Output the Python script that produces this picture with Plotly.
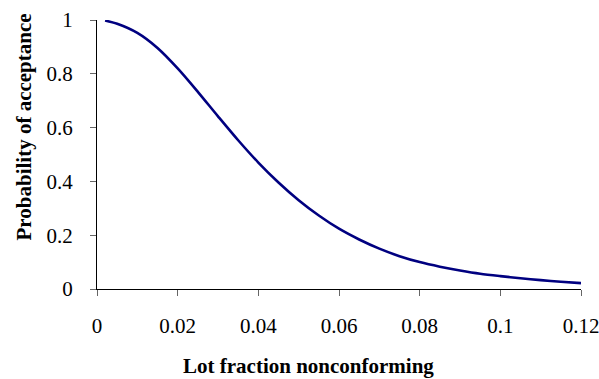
import plotly.graph_objects as go

# Operating characteristic curve: lot fraction nonconforming vs. probability of acceptance
lot_fraction = [0.002, 0.005, 0.01, 0.015, 0.02, 0.025, 0.03, 0.035, 0.04, 0.045,
                0.05, 0.055, 0.06, 0.065, 0.07, 0.075, 0.08, 0.085, 0.09, 0.095,
                0.10, 0.105, 0.11, 0.115, 0.12]
prob_accept = [0.998, 0.986, 0.952, 0.896, 0.820, 0.733, 0.642, 0.553, 0.470, 0.396,
               0.330, 0.273, 0.224, 0.184, 0.150, 0.122, 0.100, 0.083, 0.069, 0.057,
               0.048, 0.040, 0.033, 0.027, 0.022]

x_ticks = [0, 0.02, 0.04, 0.06, 0.08, 0.1, 0.12]
x_tick_labels = ["0", "0.02", "0.04", "0.06", "0.08", "0.1", "0.12"]
y_ticks = [0, 0.2, 0.4, 0.6, 0.8, 1]
y_tick_labels = ["0", "0.2", "0.4", "0.6", "0.8", "1"]

x_title = "Lot fraction nonconforming"
y_title = "Probability of acceptance"

SERIF = "Liberation Serif, Times New Roman, serif"

fig = go.Figure()
fig.add_trace(go.Scatter(
    x=lot_fraction, y=prob_accept, mode="lines",
    line=dict(color="#000080", width=2.6, shape="spline", smoothing=0.8),
    hoverinfo="skip", showlegend=False,
))

axis_common = dict(
    showgrid=False, zeroline=False, showline=True, linecolor="black", linewidth=1,
    ticks="outside", ticklen=6, tickcolor="#666", tickwidth=1,
    tickfont=dict(family=SERIF, size=21, color="black"),
    ticklabeloverflow="allow", automargin=False,
)

fig.update_xaxes(range=[0, 0.12 + 1e-9], tickvals=x_ticks, ticktext=x_tick_labels,
                 ticklabelstandoff=12, **axis_common)
fig.update_yaxes(range=[0, 1 + 1e-9], tickvals=y_ticks, ticktext=y_tick_labels,
                 ticklabelstandoff=13, **axis_common)

fig.add_annotation(text="<b>%s</b>" % x_title, xref="paper", yref="paper",
                   x=0.4366, y=-0.2845, xanchor="center", yanchor="middle",
                   showarrow=False, font=dict(family=SERIF, size=21, color="black"))
fig.add_annotation(text="<b>%s</b>" % y_title, xref="paper", yref="paper",
                   x=-0.1515, y=0.603, xanchor="center", yanchor="middle",
                   textangle=-90, showarrow=False,
                   font=dict(family=SERIF, size=21, color="black"))

fig.update_layout(
    width=599, height=379,
    margin=dict(l=97, r=18, t=20, b=90, autoexpand=False),
    paper_bgcolor="white", plot_bgcolor="white",
)

fig.write_html("out.html")
